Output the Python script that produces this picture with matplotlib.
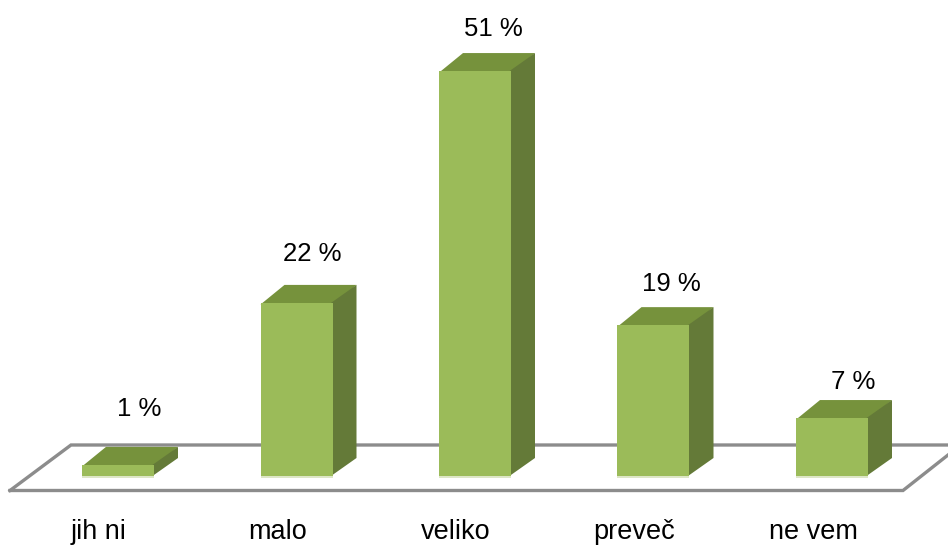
import matplotlib
matplotlib.use('Agg')
import matplotlib.pyplot as plt
import numpy as np

plt.rcParams['font.family'] = ['Liberation Sans', 'DejaVu Sans']

# Values
categories = ['jih ni', 'malo', 'veliko', 'preveč', 'ne vem']
values = [1.4, 21.8, 51.0, 19.0, 7.3]
value_labels = ['1 %', '22 %', '51 %', '19 %', '7 %']

# Layout in pixels of the 948x545 picture
W, H = 948, 545
x0_px, x_step = 118.0, 178.5   # centre of first bar, bar spacing
y0_px, y_scale = 476.0, 7.94   # baseline, pixels per percent
bar_w_px = 72.0
depth_x, depth_y = 24.0, 18.0
label_dx = [21, 16, 18, 18, 21]     # value label offset from bar centre
label_dy = [38, 31, 24, 23, 18]     # value label height above back top edge

# Colours
front_col = '#9bbb59'
top_col = '#76923c'
side_col = '#647a38'
floor_col = '#8c8c8c'
foot_col = '#dde6c6'

fig = plt.figure(figsize=(W / 100, H / 100), dpi=100)
ax = fig.add_axes([0, 0, 1, 1])
ax.set_xlim(-x0_px / x_step, (W - x0_px) / x_step)
ax.set_ylim((y0_px - H) / y_scale, y0_px / y_scale)
ax.axis('off')

# pixel sizes in data units
dx = depth_x / x_step
dy = depth_y / y_scale
bar_w = bar_w_px / x_step
overlap = 1.5 / x_step


def px(xp, yp):
    return (xp - x0_px) / x_step, (y0_px - yp) / y_scale


# Floor of the 3D chart
floor_left = [px(10, 490.5), px(71, 445), px(W, 445)]
floor_front = [px(10, 490.5), px(903, 490.5), px(W, 455)]
for line in (floor_left, floor_front):
    xs, ys = zip(*line)
    ax.plot(xs, ys, color=floor_col, lw=2.4, solid_joinstyle='miter', zorder=1)

pos = np.arange(len(categories))
for i, v in enumerate(values):
    left, right = i - bar_w / 2, i + bar_w / 2
    # top face
    ax.fill([left, right + overlap, right + dx, left + dx],
            [v - 0.2, v - 0.2, v + dy, v + dy], color=top_col, lw=0, zorder=2)
    # side face
    ax.fill([right - overlap, right + dx, right + dx, right - overlap],
            [0, dy, v + dy, v], color=side_col, lw=0, zorder=2.5)
    # labels
    ax.text(i + label_dx[i] / x_step, v + dy + label_dy[i] / y_scale, value_labels[i],
            ha='center', va='center', fontsize=18.5, color='black', zorder=4)
    ax.text(i - 19 / x_step, (y0_px - 532) / y_scale, categories[i],
            ha='center', va='center', fontsize=19.5, color='black', zorder=4)

ax.bar(pos, values, width=bar_w, color=front_col, linewidth=0, zorder=3)
ax.bar(pos, -0.2, width=bar_w, color=foot_col, linewidth=0, zorder=3)

fig.savefig('out.png', dpi=100, facecolor='white')
